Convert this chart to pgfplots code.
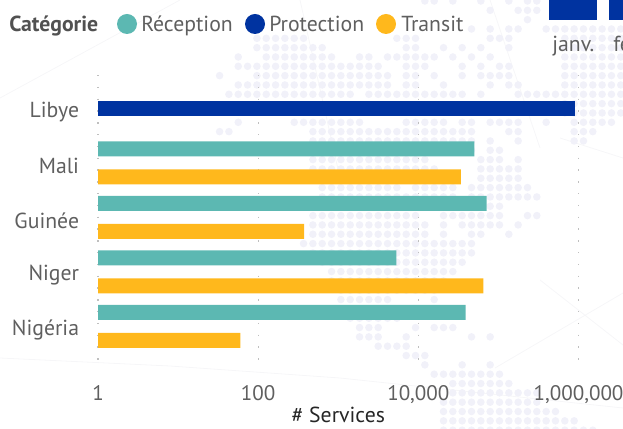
\documentclass[border=0pt]{standalone}
\usepackage{pgfplots}
\pgfplotsset{compat=1.18}
\usepackage{fontspec}
\setmainfont{PT Sans}
\definecolor{teal}{HTML}{5CB8B2}
\definecolor{dblue}{HTML}{0033A0}
\definecolor{amber}{HTML}{FFB81C}
\definecolor{txt}{HTML}{5F5F5F}
\definecolor{dotc}{HTML}{F1F1F9}
\definecolor{pale}{HTML}{F6F6F8}
\newcommand\fs{\fontsize{16.3pt}{18pt}\selectfont}
\begin{document}
\begin{tikzpicture}[x=0.75pt,y=0.75pt]
\path[use as bounding box,clip] (0,0) rectangle (623,428);
% decorative background: faint lines and dot map
\draw[pale,line width=0.6pt] (540,148)--(623,83) (495,60)--(623,135) (0,70)--(170,62)--(340,50) (300,428)--(340,250)
  (0,330)--(180,428) (560,290)--(623,270) (490,428)--(540,280) (340,50)--(623,20);
\foreach \r/\a/\b in {0/45/46,0/48/48,0/51/51,0/54/54,0/56/57,1/52/52,1/55/57,2/56/56,
 3/50/50,3/52/52,3/54/55,3/58/66,
 4/27/32,4/42/44,4/52/54,4/60/66,
 5/27/34,5/43/44,5/47/47,5/49/49,5/51/51,5/54/54,5/60/66,
 6/25/25,6/28/35,6/38/39,6/41/46,6/48/48,6/50/50,6/52/52,6/60/66,
 7/25/40,7/43/45,7/49/49,7/51/51,7/53/54,7/60/66,
 8/23/23,8/27/41,8/43/44,8/46/46,8/49/49,8/51/54,8/60/66,
 9/25/41,9/43/44,9/47/47,9/52/52,9/54/55,9/60/66,
 10/24/37,10/39/49,10/51/51,10/55/56,10/57/66,
 11/60/66,12/60/66,
 13/25/25,13/31/38,13/43/47,13/49/50,13/52/55,13/58/58,13/61/65,
 14/23/24,14/33/50,14/54/55,14/61/63,
 15/33/50,15/52/52,15/55/55,15/61/62,
 16/33/50,16/52/53,
 17/33/45,17/51/53,17/55/55,
 18/33/46,18/51/55,
 19/33/46,19/51/55,
 20/34/42,20/44/48,20/50/56,
 21/34/48,21/50/57,
 22/34/48,22/52/53,
 23/33/44,23/47/53,23/56/57,
 24/33/45,24/47/47,24/49/53,24/55/55,
 25/33/45,25/47/47,25/50/51,25/54/54,
 26/32/50,27/33/50,28/34/49,29/35/48,30/35/47,31/36/46,
 32/36/41,32/46/46,33/36/42,34/37/42,
 35/38/40,35/44/44,35/46/48,
 36/38/40,36/43/43,36/50/50,36/52/52,
 37/40/43,38/43/45,
 39/45/45,39/49/49,39/52/52,
 40/46/53,41/48/54,42/48/57,43/47/57,44/47/59,45/47/61,46/47/63}
{\foreach \c in {\a,...,\b}{\fill[dotc] ({5+9.33*\c},{428-1-9.33*\r}) circle (3.8);}}
% neighbouring visual, cut off at the edge
\fill[dblue] (549,408) rectangle (597,428);
\fill[dblue] (609,408) rectangle (623,428);
\node[anchor=base west,inner sep=0,text=txt,font=\fs] at (552,376) {janv.};
\node[anchor=base west,inner sep=0,text=txt,font=\fs] at (613,376) {févr.};
% legend
\node[anchor=base west,inner sep=0,text=txt!85!black,font=\fs\bfseries] at (9,396) {Catégorie};
\fill[teal] (127,404) circle (10);
\node[anchor=base west,inner sep=0,text=txt,font=\fs] at (141,396) {Réception};
\fill[dblue] (255,404) circle (10);
\node[anchor=base west,inner sep=0,text=txt,font=\fs] at (269,396) {Protection};
\fill[amber] (386,404) circle (10);
\node[anchor=base west,inner sep=0,text=txt,font=\fs] at (401,396) {Transit};
\begin{axis}[
  at={(73.5pt,43.5pt)},anchor=south west,
  scale only axis,width=360.4pt,height=221.25pt,
  xmode=log,log basis x=10,log origin=infty,
  xmin=1,xmax=1000000,
  ymin=-0.615,ymax=4.8,y dir=reverse,
  axis line style={draw=none},
  major tick length=0pt,minor tick length=0pt,
  xtick={1,100,10000,1000000},
  xticklabels={1,100,{10,000},{1,000,000}},
  ytick={0,1,2,3,4},
  yticklabels={Libye,Mali,Guinée,Niger,Nigéria},
  xmajorgrids,
  major grid style={draw=black!25,line width=1pt,dash pattern=on 1pt off 7.85pt},
  xticklabel style={text=txt,font=\fontsize{15.8pt}{18pt}\selectfont,anchor=base,yshift=-22.5pt,inner sep=0},
  yticklabel style={text=txt,font=\fs,anchor=east,xshift=-14pt,inner sep=0,yshift=-2.5pt},
  xlabel={\# Services},
  xlabel style={at={(axis description cs:0.5,0)},anchor=base,yshift=-39.5pt,inner sep=0,text=black!85,font=\fs},
  xbar,
  bar width=11.25pt,
  clip=false,
]
\addplot[fill=dblue,draw=none,bar shift=0pt] coordinates {(910000,0)};
\addplot[fill=teal,draw=none,bar shift=10.5pt] coordinates {(50000,1) (71000,2) (5300,3) (39000,4)};
\addplot[fill=amber,draw=none,bar shift=-10.5pt] coordinates {(34000,1) (376,2) (65000,3) (60,4)};
\end{axis}
\end{tikzpicture}
\end{document}
